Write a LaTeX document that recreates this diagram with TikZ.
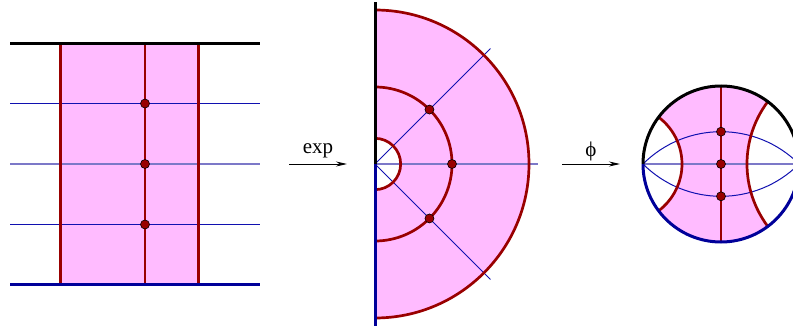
\documentclass[tikz,border=0pt]{standalone}
\usepackage{fontspec}
\setmainfont{Liberation Serif}
\usetikzlibrary{arrows.meta}
\definecolor{lilac}{HTML}{FFBBFF}
\definecolor{brick}{HTML}{990000}
\definecolor{navy}{HTML}{000099}
\definecolor{rayblue}{HTML}{1010B0}
\definecolor{axisc}{HTML}{7C78C8}

\begin{document}
\begin{tikzpicture}[x=1pt,y=1pt,
    geo/.style={brick,line width=2.7pt},
    ray/.style={rayblue,line width=1pt},
    axis/.style={axisc,line width=2.2pt},
    topb/.style={black,line width=3pt},
    botb/.style={navy,line width=3pt},
    dot/.style={circle,draw=black,fill=brick,line width=0.6pt,inner sep=0pt,minimum size=9pt},
    map/.style={-{Stealth[length=11pt,width=5pt]},line width=0.9pt},
    lbl/.style={font=\fontsize{21}{24}\selectfont,inner sep=0pt}]
  \useasboundingbox (0,-163) rectangle (793,164);
  % strip
  \begin{scope}[shift={(145,0)},x=77pt,y=77pt]
    \fill[lilac] ({-ln(3)},{-pi/2}) rectangle ({ln(2)},{pi/2});
    \foreach \a in {-1,1}
      \draw[ray] (-1.753,{\a*pi/4}) -- (1.494,{\a*pi/4});
    \draw[axis] (-1.753,0) -- (1.494,0);
    \foreach \u in {-ln(3),0,ln(2)}
      \draw[geo] ({\u},{-pi/2}) -- ({\u},{pi/2});
    \draw[topb] (-1.753,{pi/2}) -- (1.494,{pi/2});
    \draw[botb] (-1.753,{-pi/2}) -- (1.494,{-pi/2});
    \node[dot] (s1) at (0,{pi/4}) {};
    \node[dot] (s2) at (0,0) {};
    \node[dot] (s3) at (0,{-pi/4}) {};
  \end{scope}
  % half annulus
  \begin{scope}[shift={(375,0)},x=77pt,y=77pt]
    \fill[lilac] (0,2) arc[start angle=90,end angle=-90,radius=2]
      -- (0,{-1/3}) arc[start angle=-90,end angle=90,radius={1/3}] -- cycle;
    \draw[ray] (0,0) -- (45:2.12);
    \draw[ray] (0,0) -- (-45:2.12);
    \draw[axis] (0,0) -- (2.12,0);
    \foreach \r in {1/3,1,2}
      \draw[geo] (0,{\r}) arc[start angle=90,end angle=-90,radius={\r}];
    \draw[topb] (0,0) -- (0,2.1);
    \draw[botb] (0,0) -- (0,-2.1);
    \node[dot] (h1) at (45:1) {};
    \node[dot] (h2) at (0:1) {};
    \node[dot] (h3) at (-45:1) {};
  \end{scope}
  % disk
  \begin{scope}[shift={(721,0)},x=78pt,y=78pt]
    \fill[lilac] (-0.8,0.6) arc[start angle=53.13,end angle=-53.13,radius=0.75]
      arc[start angle=216.87,end angle=306.87,radius=1]
      arc[start angle=216.87,end angle=143.13,radius={4/3}]
      arc[start angle=53.13,end angle=143.13,radius=1] -- cycle;
    \draw[ray] (1,0) arc[start angle=45,end angle=135,radius={sqrt(2)}];
    \draw[ray] (1,0) arc[start angle=-45,end angle=-135,radius={sqrt(2)}];
    \draw[axis] (-1,0) -- (1,0);
    \draw[geo] (0,-1) -- (0,1);
    \draw[geo] (-0.8,0.6) arc[start angle=53.13,end angle=-53.13,radius=0.75];
    \draw[geo] (0.6,-0.8) arc[start angle=216.87,end angle=143.13,radius={4/3}];
    \draw[topb] (1,0) arc[start angle=0,end angle=180,radius=1];
    \draw[botb] (-1,0) arc[start angle=180,end angle=360,radius=1];
    \node[dot] (d1) at (0,{tan(22.5)}) {};
    \node[dot] (d2) at (0,0) {};
    \node[dot] (d3) at (0,{-tan(22.5)}) {};
  \end{scope}
  % maps
  \coordinate (e0) at (289,0);
  \coordinate (e1) at (347,0);
  \coordinate (p0) at (562,0);
  \coordinate (p1) at (620,0);
  \draw[map] (e0) -- (e1) node[lbl,midway,anchor=base,yshift=10.5pt] (exp) {exp};
  \draw[map] (p0) -- (p1) node[lbl,midway,yshift=13pt] (phi) {ϕ};
\end{tikzpicture}
\end{document}
